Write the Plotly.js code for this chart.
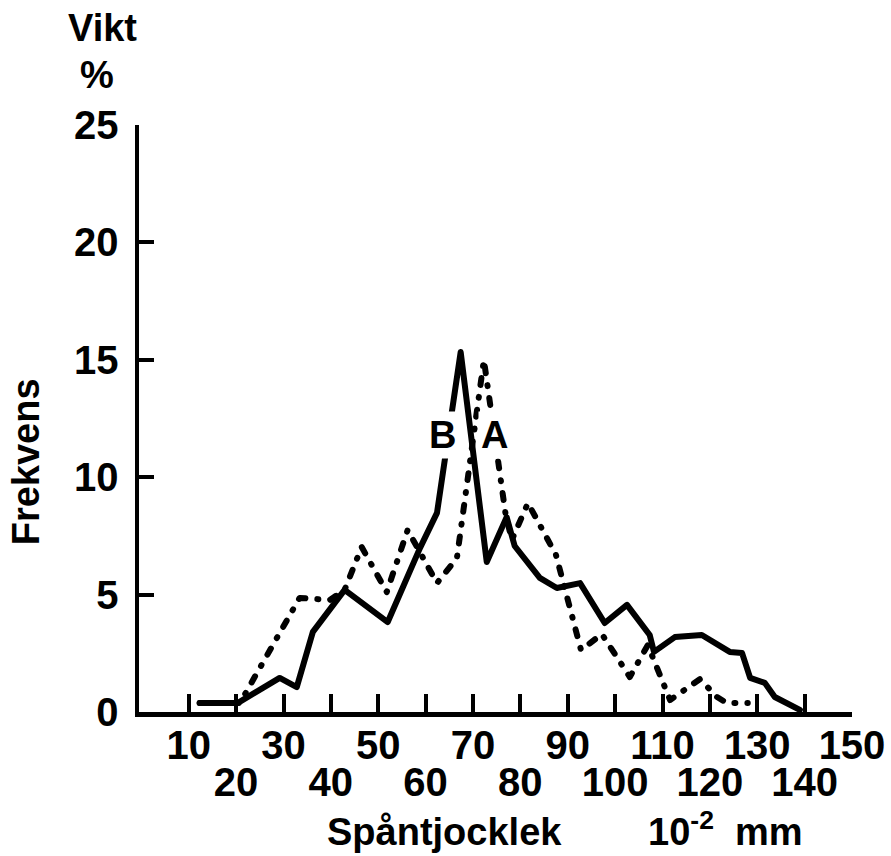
<!DOCTYPE html>
<html>
<head>
<meta charset="utf-8">
<script src="https://cdn.plot.ly/plotly-3.0.1.min.js"></script>
<style>
  html, body { margin: 0; padding: 0; background: #fff; }
  #chart { width: 891px; height: 856px; }
  .js-line { stroke-linecap: round !important; stroke-linejoin: round !important; }
</style>
</head>
<body>
<div id="chart"></div>
<script>
// Series B (solid line)
const seriesBx = [12.3, 20.3, 29.2, 32.8, 36.2, 42.9, 52.0, 58.8, 62.4, 67.4, 72.9, 77.1, 78.8, 84.1, 87.7, 92.6, 97.8, 102.5, 107.3, 108.2, 112.6, 118.3, 124.2, 126.8, 128.5, 131.6, 133.7, 139.0];
const seriesBy = [0.38, 0.38, 1.45, 1.06, 3.41, 5.2, 3.83, 6.98, 8.48, 15.33, 6.39, 8.3, 7.07, 5.71, 5.28, 5.49, 3.79, 4.56, 3.28, 2.56, 3.19, 3.28, 2.56, 2.51, 1.45, 1.24, 0.64, 0.09];

// Series A (dash-dot line)
const seriesAx = [12.3, 20.8, 33.4, 39.8, 42.9, 46.5, 51.8, 56.2, 62.4, 66.6, 72.3, 76.9, 78.2, 81.6, 87.5, 91.7, 92.8, 97.2, 103.1, 106.9, 111.6, 117.9, 121.5, 123.6, 128.0];
const seriesAy = [0.38, 0.38, 4.86, 4.77, 5.2, 7.03, 5.11, 7.75, 5.49, 6.55, 15.0, 8.39, 7.33, 8.9, 6.7, 3.5, 2.64, 3.32, 1.49, 2.85, 0.51, 1.4, 0.64, 0.38, 0.38];

// Axis ticks (upper row: odd tens, lower row: even tens)
const xTickUpperVals = [10, 30, 50, 70, 90, 110, 130, 150];
const xTickUpperText = ['10', '30', '50', '70', '90', '110', '130', '150'];
const xTickLowerVals = [20, 40, 60, 80, 100, 120, 140];
const xTickLowerText = ['20', '40', '60', '80', '100', '120', '140'];
const yTickVals = [0, 5, 10, 15, 20, 25];

const FONT = 'Liberation Sans, Arial, sans-serif';
const tf = { family: FONT, size: 38, color: '#000', weight: 'bold' };
const tickf = { family: FONT, size: 40, color: '#000', weight: 'bold' };

const traces = [
  { x: seriesBx, y: seriesBy, type: 'scatter', mode: 'lines', name: 'B',
    line: { color: '#000', width: 6 }, xaxis: 'x', yaxis: 'y', hoverinfo: 'skip' },
  { x: seriesAx, y: seriesAy, type: 'scatter', mode: 'lines', name: 'A',
    line: { color: '#000', width: 6, dash: '7px,12px,1px,12px' }, xaxis: 'x2', yaxis: 'y', hoverinfo: 'skip' }
];

const layout = {
  width: 891, height: 856,
  margin: { l: 139, r: 39, t: 125, b: 144, pad: 0 },
  paper_bgcolor: '#fff', plot_bgcolor: '#fff',
  showlegend: false,
  font: tf,
  xaxis: {
    range: [-0.5, 150], tickmode: 'array', tickvals: xTickUpperVals, ticktext: xTickUpperText,
    ticks: 'inside', ticklen: 18, tickwidth: 4, tickcolor: '#000',
    showline: true, linewidth: 4.5, linecolor: '#000',
    showgrid: false, zeroline: false, tickfont: tickf, tickangle: 0,
    ticklabelstandoff: -6
  },
  xaxis2: {
    range: [-0.5, 150], overlaying: 'x', anchor: 'y', side: 'bottom',
    tickmode: 'array', tickvals: xTickLowerVals, ticktext: xTickLowerText,
    ticks: 'inside', ticklen: 18, tickwidth: 4, tickcolor: '#000',
    showline: false, showgrid: false, zeroline: false,
    tickfont: tickf, tickangle: 0, ticklabelstandoff: 43
  },
  yaxis: {
    range: [0, 25], tickmode: 'array', tickvals: yTickVals,
    ticks: 'inside', ticklen: 15, tickwidth: 4, tickcolor: '#000',
    showline: true, linewidth: 4.5, linecolor: '#000',
    showgrid: false, zeroline: false, tickfont: tickf, ticklabelstandoff: 8
  },
  annotations: [
    { text: 'B', x: 63.6, y: 11.8, xref: 'x', yref: 'y', showarrow: false,
      font: tf, bgcolor: '#fff', borderpad: 2, xanchor: 'center', yanchor: 'middle' },
    { text: 'A', x: 74.6, y: 11.8, xref: 'x', yref: 'y', showarrow: false,
      font: tf, bgcolor: '#fff', borderpad: 2, xanchor: 'center', yanchor: 'middle' },
    { text: 'Vikt', x: -0.051, y: 1.165, xref: 'paper', yref: 'paper', showarrow: false,
      font: tf, xanchor: 'center', yanchor: 'middle' },
    { text: '%', x: -0.059, y: 1.085, xref: 'paper', yref: 'paper', showarrow: false,
      font: tf, xanchor: 'center', yanchor: 'middle' },
    { text: 'Frekvens', x: -0.158, y: 0.426, xref: 'paper', yref: 'paper', showarrow: false,
      font: tf, textangle: -90, xanchor: 'center', yanchor: 'middle' },
    { text: 'Spåntjocklek', x: 0.428, y: -0.205, xref: 'paper', yref: 'paper', showarrow: false,
      font: tf, xanchor: 'center', yanchor: 'middle' },
    { text: '10<sup>-2</sup>  mm', x: 0.822, y: -0.2, xref: 'paper', yref: 'paper', showarrow: false,
      font: tf, xanchor: 'center', yanchor: 'middle' }
  ]
};

Plotly.newPlot('chart', traces, layout, { staticPlot: true, displayModeBar: false });
</script>
</body>
</html>
